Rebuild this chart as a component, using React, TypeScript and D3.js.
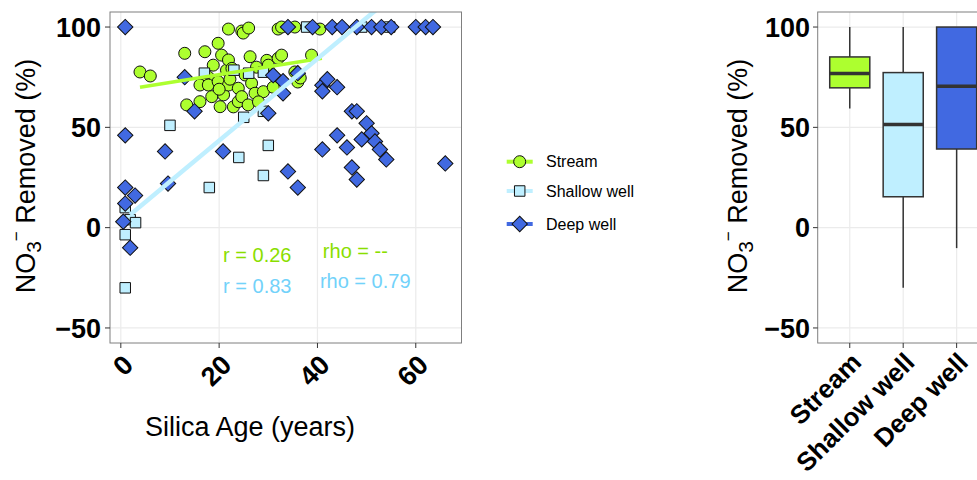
import React, { useEffect, useRef } from 'react';
import * as d3 from 'd3';

// silica age (years), NO3- removed (%)
const streamPts: [number, number][] = [
  [3.9, 77.6], [6, 75.6], [13, 86.9], [13.4, 61.2], [16.1, 71.1], [16.1, 62.8], [17.1, 87.7],
  [17.8, 75], [17.8, 71.1], [18.5, 65.3], [18.8, 81], [19.8, 91.9], [19.8, 72.8], [20.5, 86],
  [20.2, 60.3], [20.9, 66.2], [21.5, 78.5], [21.9, 83.6], [21.9, 71.1], [21.9, 99], [22.6, 79.4],
  [22.9, 60.2], [23.9, 69.5], [23.9, 62.8], [24.6, 98], [24.6, 65.3], [24.9, 97], [25.3, 76.1],
  [25.9, 61.2], [26, 99.5], [26.3, 85.2], [26.6, 72], [27.3, 67], [27.6, 80], [29, 67.8],
  [29.7, 83.4], [30, 81], [31, 70], [32, 99], [32, 84.4], [32.7, 100], [32.7, 86], [35.4, 100],
  [35.4, 77.6], [36, 72.6], [36.5, 74.6], [38.8, 86], [40.5, 99], [28, 62.7], [22.2, 74], [20, 69],
];

const shallowPts: [number, number][] = [
  [0.9, -30], [0.9, -3.5], [1.9, 4], [3, 2.5], [0.9, 10], [10, 51], [17, 77], [18, 20],
  [23, 78.5], [24, 35], [25, 55], [26, 77], [29, 77.5], [29, 58], [29, 26], [30, 41],
  [37.8, 100], [49, 100], [54.7, 100],
];

const deepPts: [number, number][] = [
  [0.9, 100], [34, 100], [39, 100], [43, 100], [45, 100], [48, 100], [51, 100], [53, 100],
  [55, 100], [60, 100], [62, 100], [63.5, 100], [0.9, 46], [9, 38], [9.6, 22], [20.8, 38],
  [34, 28], [0.9, 20], [2.9, 16], [0.9, 12], [0.5, 3], [1.9, -10], [13, 75], [15, 58],
  [31, 76], [33, 67], [30, 57], [36, 77], [33, 73], [41, 71], [42, 74], [44, 70], [41, 68],
  [47, 58], [48, 58], [50, 52], [51, 47], [49, 44], [51.7, 43], [52.7, 39], [54, 34],
  [44, 46], [41, 39], [46, 40], [47, 30], [48, 24], [36, 20], [66, 32],
];

const groups = ['Stream', 'Shallow well', 'Deep well'];
const groupFill = ['#adff2f', '#bfefff', '#4169e1'];

// linear fits: intercept, slope, x range
const streamFit = { a: 68.5, b: 0.39, from: 3.9, to: 40.9 };
const shallowFit = { a: 2.6, b: 2.04, from: 1.9, to: 54.7 };

// [low whisker, Q1, median, Q3, high whisker]
const boxStats = [
  [59.4, 69.7, 76.8, 85.1, 100],
  [-30, 15.4, 51.4, 77.3, 100],
  [-10.2, 39.2, 70.5, 100, 100],
];

const xTicks = [0, 20, 40, 60];
const yTicks = [-50, 0, 50, 100];
const statText = ['r = 0.26', 'r = 0.83', 'rho = --', 'rho = 0.79'];
const statColor = ['#8ade00', '#72d2fa', '#8ade00', '#72d2fa'];

const FONT = 'Liberation Sans, Arial, Helvetica, sans-serif';

const App: React.FC = () => {
  const svgRef = useRef<SVGSVGElement>(null);

  useEffect(() => {
    if (!svgRef.current) return;
    const svg = d3.select(svgRef.current);
    svg.selectAll('*').remove();

    const x = d3.scaleLinear().domain([-2.2, 69.3]).range([110, 461.5]);
    const y = d3.scaleLinear().domain([-57.5, 107.5]).range([343, 12]);

    // ---------- left panel ----------
    const left = svg.append('g');
    left.append('rect')
      .attr('x', 110).attr('y', 12).attr('width', 351.5).attr('height', 331)
      .attr('fill', '#fff');
    xTicks.forEach(t => {
      left.append('line')
        .attr('x1', x(t)).attr('x2', x(t)).attr('y1', 12).attr('y2', 343)
        .attr('stroke', '#ebebeb').attr('stroke-width', 1.2);
    });
    yTicks.forEach(t => {
      left.append('line')
        .attr('x1', 110).attr('x2', 461.5).attr('y1', y(t)).attr('y2', y(t))
        .attr('stroke', '#ebebeb').attr('stroke-width', 1.2);
    });

    svg.append('clipPath').attr('id', 'leftClip')
      .append('rect').attr('x', 110).attr('y', 12).attr('width', 351.5).attr('height', 331);

    const plot = left.append('g').attr('clip-path', 'url(#leftClip)');

    const circle = d3.symbol(d3.symbolCircle, Math.PI * 36)();
    const square = d3.symbol(d3.symbolSquare, 110)();
    const diamond = d3.symbol(d3.symbolSquare, 118)();

    const drawPts = (pts: [number, number][], path: string | null, fill: string, rot: number) => {
      plot.append('g').selectAll('path')
        .data(pts)
        .enter()
        .append('path')
        .attr('d', path)
        .attr('transform', d => `translate(${x(d[0])},${y(d[1])}) rotate(${rot})`)
        .attr('fill', fill)
        .attr('stroke', '#111')
        .attr('stroke-width', 1);
    };
    drawPts(streamPts, circle, groupFill[0], 0);
    drawPts(shallowPts, square, groupFill[1], 0);
    drawPts(deepPts, diamond, groupFill[2], 45);

    const fitLine = (f: { a: number; b: number; from: number; to: number }, color: string, w: number) => {
      plot.append('line')
        .attr('x1', x(f.from)).attr('y1', y(f.a + f.b * f.from))
        .attr('x2', x(f.to)).attr('y2', y(f.a + f.b * f.to))
        .attr('stroke', color).attr('stroke-width', w);
    };
    fitLine(streamFit, groupFill[0], 3.5);
    fitLine(shallowFit, groupFill[1], 4.5);

    // correlation labels
    const statPos = [[20.8, -17.3], [20.8, -32.5], [41.1, -15.1], [40.5, -30]];
    statText.forEach((s, i) => {
      left.append('text')
        .attr('x', x(statPos[i][0])).attr('y', y(statPos[i][1]))
        .attr('fill', statColor[i])
        .attr('font-size', 20).attr('font-family', FONT)
        .text(s);
    });

    left.append('rect')
      .attr('x', 110).attr('y', 12).attr('width', 351.5).attr('height', 331)
      .attr('fill', 'none').attr('stroke', '#7f7f7f').attr('stroke-width', 1);

    // y axis
    yTicks.forEach(t => {
      left.append('line')
        .attr('x1', 105).attr('x2', 110).attr('y1', y(t)).attr('y2', y(t))
        .attr('stroke', '#333').attr('stroke-width', 1);
      left.append('text')
        .attr('x', 101).attr('y', y(t)).attr('dy', '0.36em')
        .attr('text-anchor', 'end')
        .attr('font-family', FONT).attr('font-size', 27).attr('font-weight', 'bold')
        .text(t < 0 ? `\u2212${Math.abs(t)}` : `${t}`);
    });
    // x axis
    xTicks.forEach(t => {
      left.append('line')
        .attr('x1', x(t)).attr('x2', x(t)).attr('y1', 343).attr('y2', 348)
        .attr('stroke', '#333').attr('stroke-width', 1);
      left.append('text')
        .attr('transform', `translate(${x(t) + 14},366.5) rotate(-45)`)
        .attr('text-anchor', 'end')
        .attr('font-family', FONT).attr('font-size', 27).attr('font-weight', 'bold')
        .text(`${t}`);
    });

    left.append('text')
      .attr('x', 250).attr('y', 436)
      .attr('text-anchor', 'middle')
      .attr('font-family', FONT).attr('font-size', 27)
      .text('Silica Age (years)');

    const yTitle = (g: d3.Selection<SVGGElement, unknown, null, undefined>, tx: number) => {
      const t = g.append('text')
        .attr('transform', `translate(${tx},176) rotate(-90)`)
        .attr('text-anchor', 'middle')
        .attr('font-family', FONT).attr('font-size', 27);
      t.append('tspan').text('NO');
      t.append('tspan').attr('font-size', 21).attr('dy', 6).text('3');
      t.append('tspan').attr('font-size', 17).attr('dy', -19).text('\u2212');
      t.append('tspan').attr('dy', 13).text(' Removed (%)');
    };
    yTitle(left, 35);

    // ---------- legend ----------
    const legend = svg.append('g');
    const legendY = [161.7, 191, 224];
    const keyShape = [circle, square, diamond];
    groups.forEach((gname, i) => {
      legend.append('line')
        .attr('x1', 506.7).attr('x2', 532.7).attr('y1', legendY[i]).attr('y2', legendY[i])
        .attr('stroke', groupFill[i]).attr('stroke-width', 4);
      legend.append('path')
        .attr('d', keyShape[i])
        .attr('transform', `translate(519.7,${legendY[i]}) rotate(${i === 2 ? 45 : 0})`)
        .attr('fill', groupFill[i]).attr('stroke', '#111').attr('stroke-width', 1);
      legend.append('text')
        .attr('x', 546).attr('y', legendY[i]).attr('dy', '0.36em')
        .attr('font-family', FONT).attr('font-size', 16)
        .text(gname);
    });

    // ---------- right panel ----------
    const right = svg.append('g');
    const cx = d3.scalePoint<string>().domain(groups).range([817.7, 988.7]).padding(0.6);
    const bw = cx.step() * 0.75;
    right.append('rect')
      .attr('x', 817.7).attr('y', 12).attr('width', 171).attr('height', 331)
      .attr('fill', '#fff');
    groups.forEach(gname => {
      right.append('line')
        .attr('x1', cx(gname)!).attr('x2', cx(gname)!).attr('y1', 12).attr('y2', 343)
        .attr('stroke', '#ebebeb').attr('stroke-width', 1.2);
    });
    yTicks.forEach(t => {
      right.append('line')
        .attr('x1', 817.7).attr('x2', 988.7).attr('y1', y(t)).attr('y2', y(t))
        .attr('stroke', '#ebebeb').attr('stroke-width', 1.2);
    });

    groups.forEach((gname, i) => {
      const [lo, q1, med, q3, hi] = boxStats[i];
      const c = cx(gname)!;
      right.append('line')
        .attr('x1', c).attr('x2', c).attr('y1', y(hi)).attr('y2', y(q3))
        .attr('stroke', '#333').attr('stroke-width', 1.5);
      right.append('line')
        .attr('x1', c).attr('x2', c).attr('y1', y(q1)).attr('y2', y(lo))
        .attr('stroke', '#333').attr('stroke-width', 1.5);
      right.append('rect')
        .attr('x', c - bw / 2).attr('y', y(q3))
        .attr('width', bw).attr('height', y(q1) - y(q3))
        .attr('fill', groupFill[i]).attr('stroke', '#333').attr('stroke-width', 1.5);
      right.append('line')
        .attr('x1', c - bw / 2).attr('x2', c + bw / 2).attr('y1', y(med)).attr('y2', y(med))
        .attr('stroke', '#333').attr('stroke-width', 3.5);
    });

    right.append('rect')
      .attr('x', 817.7).attr('y', 12).attr('width', 171).attr('height', 331)
      .attr('fill', 'none').attr('stroke', '#7f7f7f').attr('stroke-width', 1);

    yTicks.forEach(t => {
      right.append('line')
        .attr('x1', 813).attr('x2', 817.7).attr('y1', y(t)).attr('y2', y(t))
        .attr('stroke', '#333').attr('stroke-width', 1);
      right.append('text')
        .attr('x', 810).attr('y', y(t)).attr('dy', '0.36em')
        .attr('text-anchor', 'end')
        .attr('font-family', FONT).attr('font-size', 27).attr('font-weight', 'bold')
        .text(t < 0 ? `\u2212${Math.abs(t)}` : `${t}`);
    });
    groups.forEach(gname => {
      const c = cx(gname)!;
      right.append('line')
        .attr('x1', c).attr('x2', c).attr('y1', 343).attr('y2', 348)
        .attr('stroke', '#333').attr('stroke-width', 1);
      right.append('text')
        .attr('transform', `translate(${c + 13},364) rotate(-45)`)
        .attr('text-anchor', 'end')
        .attr('font-family', FONT).attr('font-size', 26).attr('font-weight', 'bold')
        .text(gname);
    });
    yTitle(right, 747);
  }, []);

  return (
    <svg
      ref={svgRef}
      width={977}
      height={480}
      style={{ position: 'absolute', left: 0, top: 0, background: '#fff' }}
    />
  );
};

export default App;
